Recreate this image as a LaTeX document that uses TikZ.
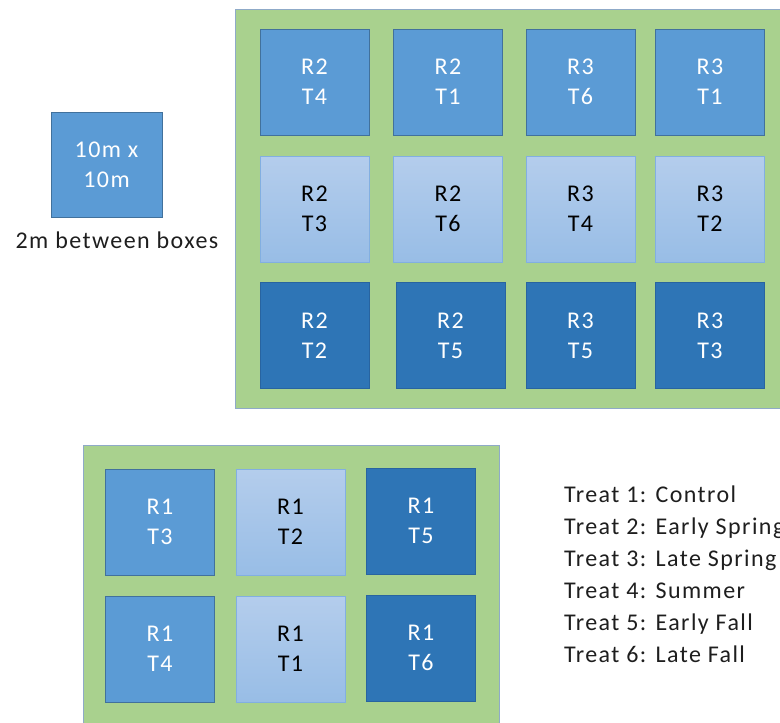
\documentclass[tikz,border=0pt]{standalone}
\usepackage{fontspec}
\setmainfont{Carlito}[LetterSpace=6]
\definecolor{medblue}{RGB}{91,155,213}
\definecolor{medline}{RGB}{65,113,156}
\definecolor{darkblue}{RGB}{46,117,182}
\definecolor{darkline}{RGB}{40,100,160}
\definecolor{lighttop}{RGB}{180,205,236}
\definecolor{lightbot}{RGB}{152,189,230}
\definecolor{lightline}{RGB}{130,175,225}
\definecolor{fieldgreen}{RGB}{169,209,142}
\definecolor{fieldline}{RGB}{143,170,200}
\definecolor{txtgray}{RGB}{30,30,30}
\begin{document}
\begin{tikzpicture}[x=1pt,y=-1pt,
  txt/.style={font=\fontsize{24}{30}\selectfont},
  plot/.style={txt,rectangle,minimum width=109pt,minimum height=106pt,inner sep=0pt,align=center,line width=0.8pt},
  medbox/.style={plot,fill=medblue,draw=medline,text=white},
  darkbox/.style={plot,fill=darkblue,draw=darkline,text=white},
  lightbox/.style={plot,top color=lighttop,bottom color=lightbot,draw=lightline,text=black},
  field/.style={fill=fieldgreen,draw=fieldline,line width=1pt},
  legend/.style={txt,anchor=base west,text=txtgray,inner sep=0pt}
]
\useasboundingbox (0,0) rectangle (780,723);
% fields
\path[field] (235,9) rectangle (790,408);
\path[field] (83,445) rectangle (499,735);
% scale box
\node[medbox,minimum width=111pt,minimum height=105pt] (scale) at (106.5,164.5) {10m x\\10m};
\node[txt,text=txtgray,inner sep=0pt,anchor=base] (gap) at (117,248) {2m between boxes};
% top field
\node[medbox]   (a11) at (314.5,82)  {R2\\T4};
\node[medbox]   (a12) at (448,82)    {R2\\T1};
\node[medbox]   (a13) at (580.5,82)  {R3\\T6};
\node[medbox]   (a14) at (710,82)    {R3\\T1};
\node[lightbox] (a21) at (314.5,209) {R2\\T3};
\node[lightbox] (a22) at (448,209)   {R2\\T6};
\node[lightbox] (a23) at (580.5,209) {R3\\T4};
\node[lightbox] (a24) at (710,209)   {R3\\T2};
\node[darkbox]  (a31) at (314.5,335.5) {R2\\T2};
\node[darkbox]  (a32) at (450.5,335.5) {R2\\T5};
\node[darkbox]  (a33) at (580.5,335.5) {R3\\T5};
\node[darkbox]  (a34) at (710,335.5)   {R3\\T3};
% bottom field
\node[medbox]   (b11) at (160,522)   {R1\\T3};
\node[lightbox] (b12) at (290.5,522) {R1\\T2};
\node[darkbox]  (b13) at (421,521)   {R1\\T5};
\node[medbox]   (b21) at (160,649)   {R1\\T4};
\node[lightbox] (b22) at (290.5,649) {R1\\T1};
\node[darkbox]  (b23) at (421,648)   {R1\\T6};
% legend
\node[legend] (l1) at (564,502) {Treat 1: Control};
\node[legend] (l2) at (564,534) {Treat 2: Early Spring};
\node[legend] (l3) at (564,566) {Treat 3: Late Spring};
\node[legend] (l4) at (564,598) {Treat 4: Summer};
\node[legend] (l5) at (564,630) {Treat 5: Early Fall};
\node[legend] (l6) at (564,662) {Treat 6: Late Fall};
\end{tikzpicture}
\end{document}
